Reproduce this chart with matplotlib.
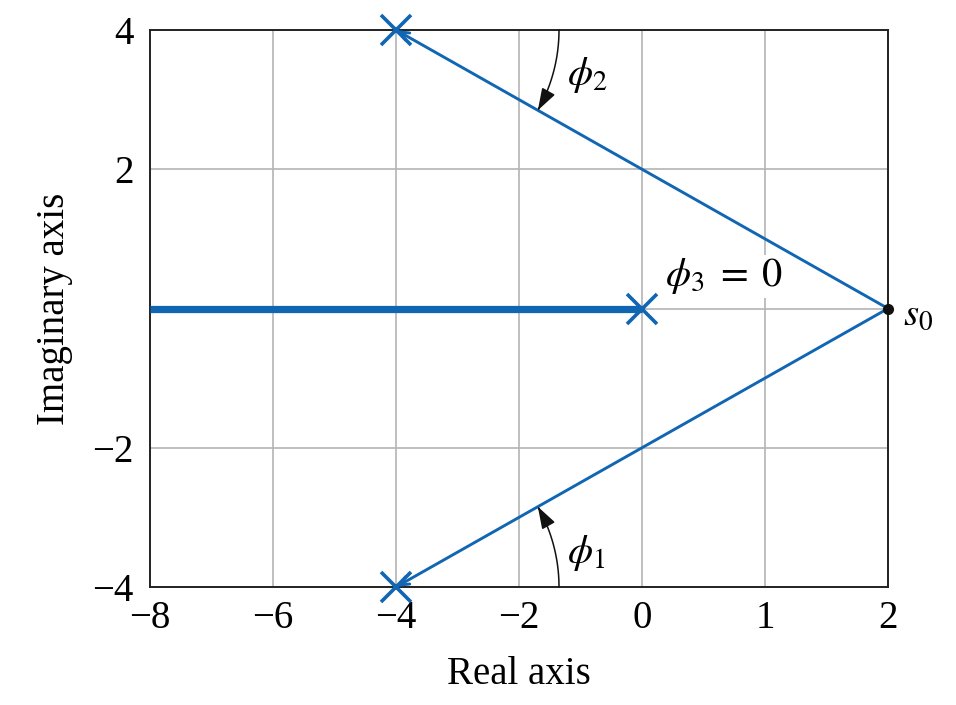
import numpy as np
import matplotlib
matplotlib.use("Agg")
import matplotlib.pyplot as plt
import matplotlib.transforms as mtransforms
from matplotlib.patches import FancyArrowPatch
from matplotlib.path import Path

plt.rcParams['font.family'] = ['Liberation Serif', 'DejaVu Serif']
plt.rcParams['mathtext.fontset'] = 'stix'

# ---- data ----
x_ticks = [-8, -6, -4, -2, 0, 1, 2]
x_tick_labels = ['\u22128', '\u22126', '\u22124', '\u22122', '0', '1', '2']
y_ticks = [-4, -2, 0, 2, 4]
y_tick_labels = ['\u22124', '\u22122', '', '2', '4']
pole_re = [-4, -4, 0]
pole_im = [4, -4, 0]
s0 = (2, 0)
locus_re = [-8, 0]
locus_im = [0, 0]

blue = '#1166b4'

pos = np.arange(len(x_ticks), dtype=float)
def fwd(v):
    return np.interp(v, x_ticks, pos)
def inv(p):
    return np.interp(p, pos, x_ticks)

fig = plt.figure(figsize=(9.56, 7.05), dpi=100)
ax = fig.add_axes([150/956, 1-587/705, (888-150)/956, (587-30)/705])
ax.set_xscale('function', functions=(fwd, inv))
ax.set_xlim(-8, 2)
ax.set_ylim(-4, 4)
ax.set_xticks(x_ticks)
ax.set_xticklabels(x_tick_labels)
ax.set_yticks(y_ticks)
ax.set_yticklabels(y_tick_labels)
ax.tick_params(length=0, labelsize=28, pad=9)
ax.tick_params(axis='y', pad=12)
ax.grid(True, color='#b4b4b4', lw=1.2)
ax.set_axisbelow(True)
for sp in ax.spines.values():
    sp.set_linewidth(1.4)
    sp.set_color('#222222')

ax.set_xlabel('Real axis', fontsize=28, labelpad=14)
ax.set_ylabel('Imaginary axis', fontsize=28, labelpad=14)

# locus on real axis
ax.plot(locus_re, locus_im, color=blue, lw=5.2, solid_capstyle='butt', zorder=3)

# vectors from s0 to poles
for pr, pi in zip(pole_re[:2], pole_im[:2]):
    ax.annotate('', xy=(pr, pi), xytext=s0,
                arrowprops=dict(arrowstyle='->,head_length=0.7,head_width=0.3',
                                color=blue, lw=2.1, shrinkA=0, shrinkB=0),
                zorder=4, annotation_clip=False)

# poles
ax.plot(pole_re, pole_im, 'x', color=blue, ms=22, mew=2.6, zorder=5, clip_on=False)
# s0
ax.plot([s0[0]], [s0[1]], 'o', color='#111111', ms=7, zorder=6, clip_on=False)
ax.annotate(r'$s_0$', xy=s0, xytext=(11, -5), textcoords='offset points',
            fontsize=28, va='center', ha='left', annotation_clip=False)

# angle arcs
fig.canvas.draw()
def angle_arc(cx, cy, a0, a1, r=1.63):
    trans = fig.dpi_scale_trans + mtransforms.ScaledTranslation(cx, cy, ax.transData)
    th = np.radians(np.linspace(a0, a1, 60))
    verts = np.column_stack([r*np.cos(th), r*np.sin(th)])
    p = FancyArrowPatch(path=Path(verts), arrowstyle='-|>,head_length=0.75,head_width=0.25',
                        mutation_scale=18, color='#111111', lw=1.1, transform=trans,
                        shrinkA=0, shrinkB=0, zorder=4, clip_on=False)
    ax.add_patch(p)

# compute line angle in display space
p_pole = ax.transData.transform((-4, 4))
p_s0 = ax.transData.transform(s0)
ang = np.degrees(np.arctan2(p_s0[1]-p_pole[1], p_s0[0]-p_pole[0]))
angle_arc(-4, 4, 0, ang)
angle_arc(-4, -4, 0, -ang)

ax.text(-1.22, 3.35, r'$\phi_2$', fontsize=29, va='center', ha='left')
ax.text(-1.22, -3.51, r'$\phi_1$', fontsize=29, va='center', ha='left')
ax.text(0.19, 0.46, r'$\phi_3\;=\;0$', fontsize=29, va='center', ha='left', zorder=2,
        bbox=dict(facecolor='white', edgecolor='none', pad=1))

fig.savefig('out.png', dpi=100, facecolor='white')
